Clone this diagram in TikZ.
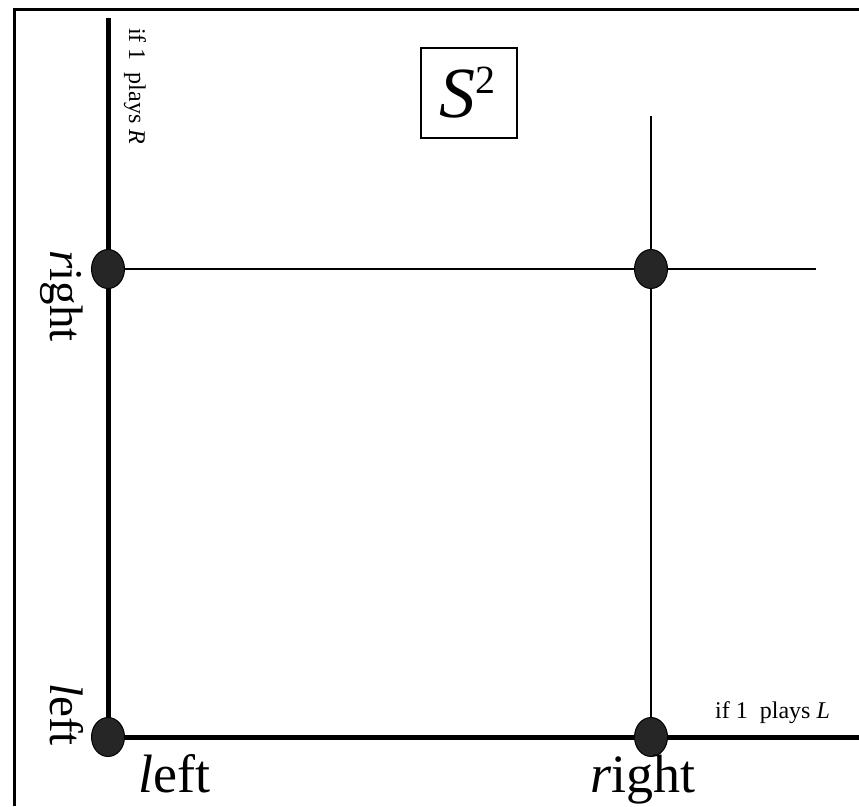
\documentclass[tikz,border=0pt]{standalone}
\usepackage{fontspec}
\setmainfont{Liberation Serif}
\usetikzlibrary{shapes.geometric}
\begin{document}
\begin{tikzpicture}[x=1pt,y=-1pt,
  dot/.style={ellipse,draw=black,line width=1pt,fill=black!85,minimum width=33pt,minimum height=39pt,inner sep=0pt},
  axis/.style={line width=5pt},
  thin/.style={line width=1.5pt},
  bigh/.style={font=\fontsize{54}{56}\selectfont,inner sep=0pt},
  bigv/.style={font=\fontsize{47}{55}\selectfont,inner sep=0pt},
  small/.style={font=\fontsize{24}{28}\selectfont,inner sep=0pt}]
\useasboundingbox (0,0) rectangle (859,806);
% frame
\draw[line width=3pt] (14,806) -- (14,9) -- (859,9);
% dot centres
\coordinate (ll) at (108,737);
\coordinate (lr) at (651,737);
\coordinate (ul) at (108,269);
\coordinate (ur) at (651,269);
\coordinate (vtop) at (108,18);
\coordinate (hend) at (859,737);
\coordinate (thtop) at (651,116);
\coordinate (thend) at (816,269);
% lines
\draw[axis] (vtop) -- (ll) -- (hend);
\draw[thin] (ul) -- (thend);
\draw[thin] (thtop) -- (lr);
% dots
\node[dot] (dll) at (ll) {};
\node[dot] (dlr) at (lr) {};
\node[dot] (dul) at (ul) {};
\node[dot] (dur) at (ur) {};
% box
\node[draw,line width=2.5pt,minimum width=96pt,minimum height=90pt,inner sep=0pt] (s2) at (469,93) {};
\node[inner sep=0pt,anchor=base] (s2t) at (467,117) {\fontsize{72}{72}\selectfont\textit{S}\raisebox{24pt}{\fontsize{40}{40}\selectfont 2}};
% labels
\node[small,rotate=-90,anchor=base west] (ifR) at (129,28) {if 1\ \ plays \textit{R}};
\node[small,anchor=base west] (ifL) at (715,718) {if 1\ \ plays \textit{L}};
\node[bigh,anchor=base west] (bl) at (138,792) {\textit{l}eft};
\node[bigh,anchor=base west] (br) at (590,792) {\textit{r}ight};
\node[bigv,rotate=-90,anchor=base west] (vr) at (50,250) {\textit{r}ight};
\node[bigv,rotate=-90,anchor=base west] (vl) at (50,683) {\textit{l}eft};
\end{tikzpicture}
\end{document}
